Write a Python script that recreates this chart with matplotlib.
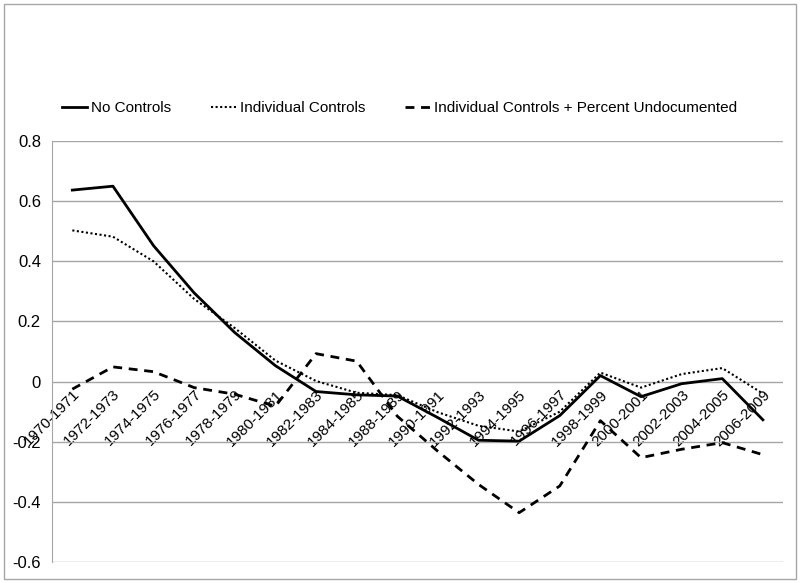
import matplotlib
matplotlib.use('Agg')
import matplotlib.pyplot as plt
from matplotlib.patches import Rectangle

plt.rcParams['font.family'] = ['Liberation Sans', 'DejaVu Sans']

# 数据
periods = ['1970-1971', '1972-1973', '1974-1975', '1976-1977', '1978-1979', '1980-1981',
           '1982-1983', '1984-1985', '1988-1989', '1990-1991', '1992-1993', '1994-1995',
           '1996-1997', '1998-1999', '2000-2001', '2002-2003', '2004-2005', '2006-2009']
no_controls = [0.637, 0.650, 0.452, 0.295, 0.163, 0.053, -0.033, -0.044, -0.048, -0.120,
               -0.195, -0.198, -0.113, 0.020, -0.050, -0.007, 0.010, -0.127]
indiv_controls = [0.503, 0.482, 0.400, 0.275, 0.178, 0.070, 0.002, -0.037, -0.045, -0.102,
                  -0.147, -0.166, -0.100, 0.030, -0.020, 0.025, 0.045, -0.040]
indiv_undoc = [-0.025, 0.049, 0.033, -0.020, -0.042, -0.082, 0.093, 0.068, -0.115, -0.232,
               -0.342, -0.436, -0.347, -0.130, -0.253, -0.225, -0.203, -0.243]
yticks_vals = [-0.6, -0.4, -0.2, 0, 0.2, 0.4, 0.6, 0.8]

fig = plt.figure(figsize=(8, 5.83), dpi=100)
ax = fig.add_axes([0.065, 0.036, 0.914, 0.722])

x = list(range(len(periods)))
l1, = ax.plot(x, no_controls, color='black', lw=2, label='No Controls')
l2, = ax.plot(x, indiv_controls, color='black', lw=1.5, linestyle=(0, (1, 1.2)),
              label='Individual Controls')
l3, = ax.plot(x, indiv_undoc, color='black', lw=2, linestyle=(0, (3.2, 2.4)),
              label='Individual Controls + Percent Undocumented')

ax.set_xlim(-0.5, len(periods) - 0.5)
ax.set_ylim(-0.6, 0.8)
ax.set_yticks(yticks_vals)
ax.set_yticklabels(['-0.6', '-0.4', '-0.2', '0', '0.2', '0.4', '0.6', '0.8'], fontsize=12)
ax.yaxis.grid(True, color='#a6a6a6', lw=1)
ax.set_axisbelow(True)

# 类别轴穿过 0
ax.spines['bottom'].set_position(('data', 0))
ax.spines['bottom'].set_visible(False)
ax.spines['top'].set_visible(False)
ax.spines['right'].set_visible(False)
ax.spines['left'].set_color('#a6a6a6')
ax.set_xticks(x)
ax.set_xticklabels(periods, rotation=45, ha='right', rotation_mode='anchor', fontsize=11)
ax.tick_params(axis='x', length=0, pad=4)
ax.tick_params(axis='y', length=0, pad=8)

fig.legend(handles=[l1, l2, l3], loc='center', bbox_to_anchor=(0.5, 0.814), ncol=3,
           frameon=False, fontsize=11, handlelength=1.6, handletextpad=0.3, columnspacing=2.6)

# 外框
fig.patches.append(Rectangle((0.005, 0.007), 0.99, 0.986, transform=fig.transFigure,
                             fill=False, edgecolor='#a6a6a6', lw=1))

plt.savefig('out.png', dpi=100)
